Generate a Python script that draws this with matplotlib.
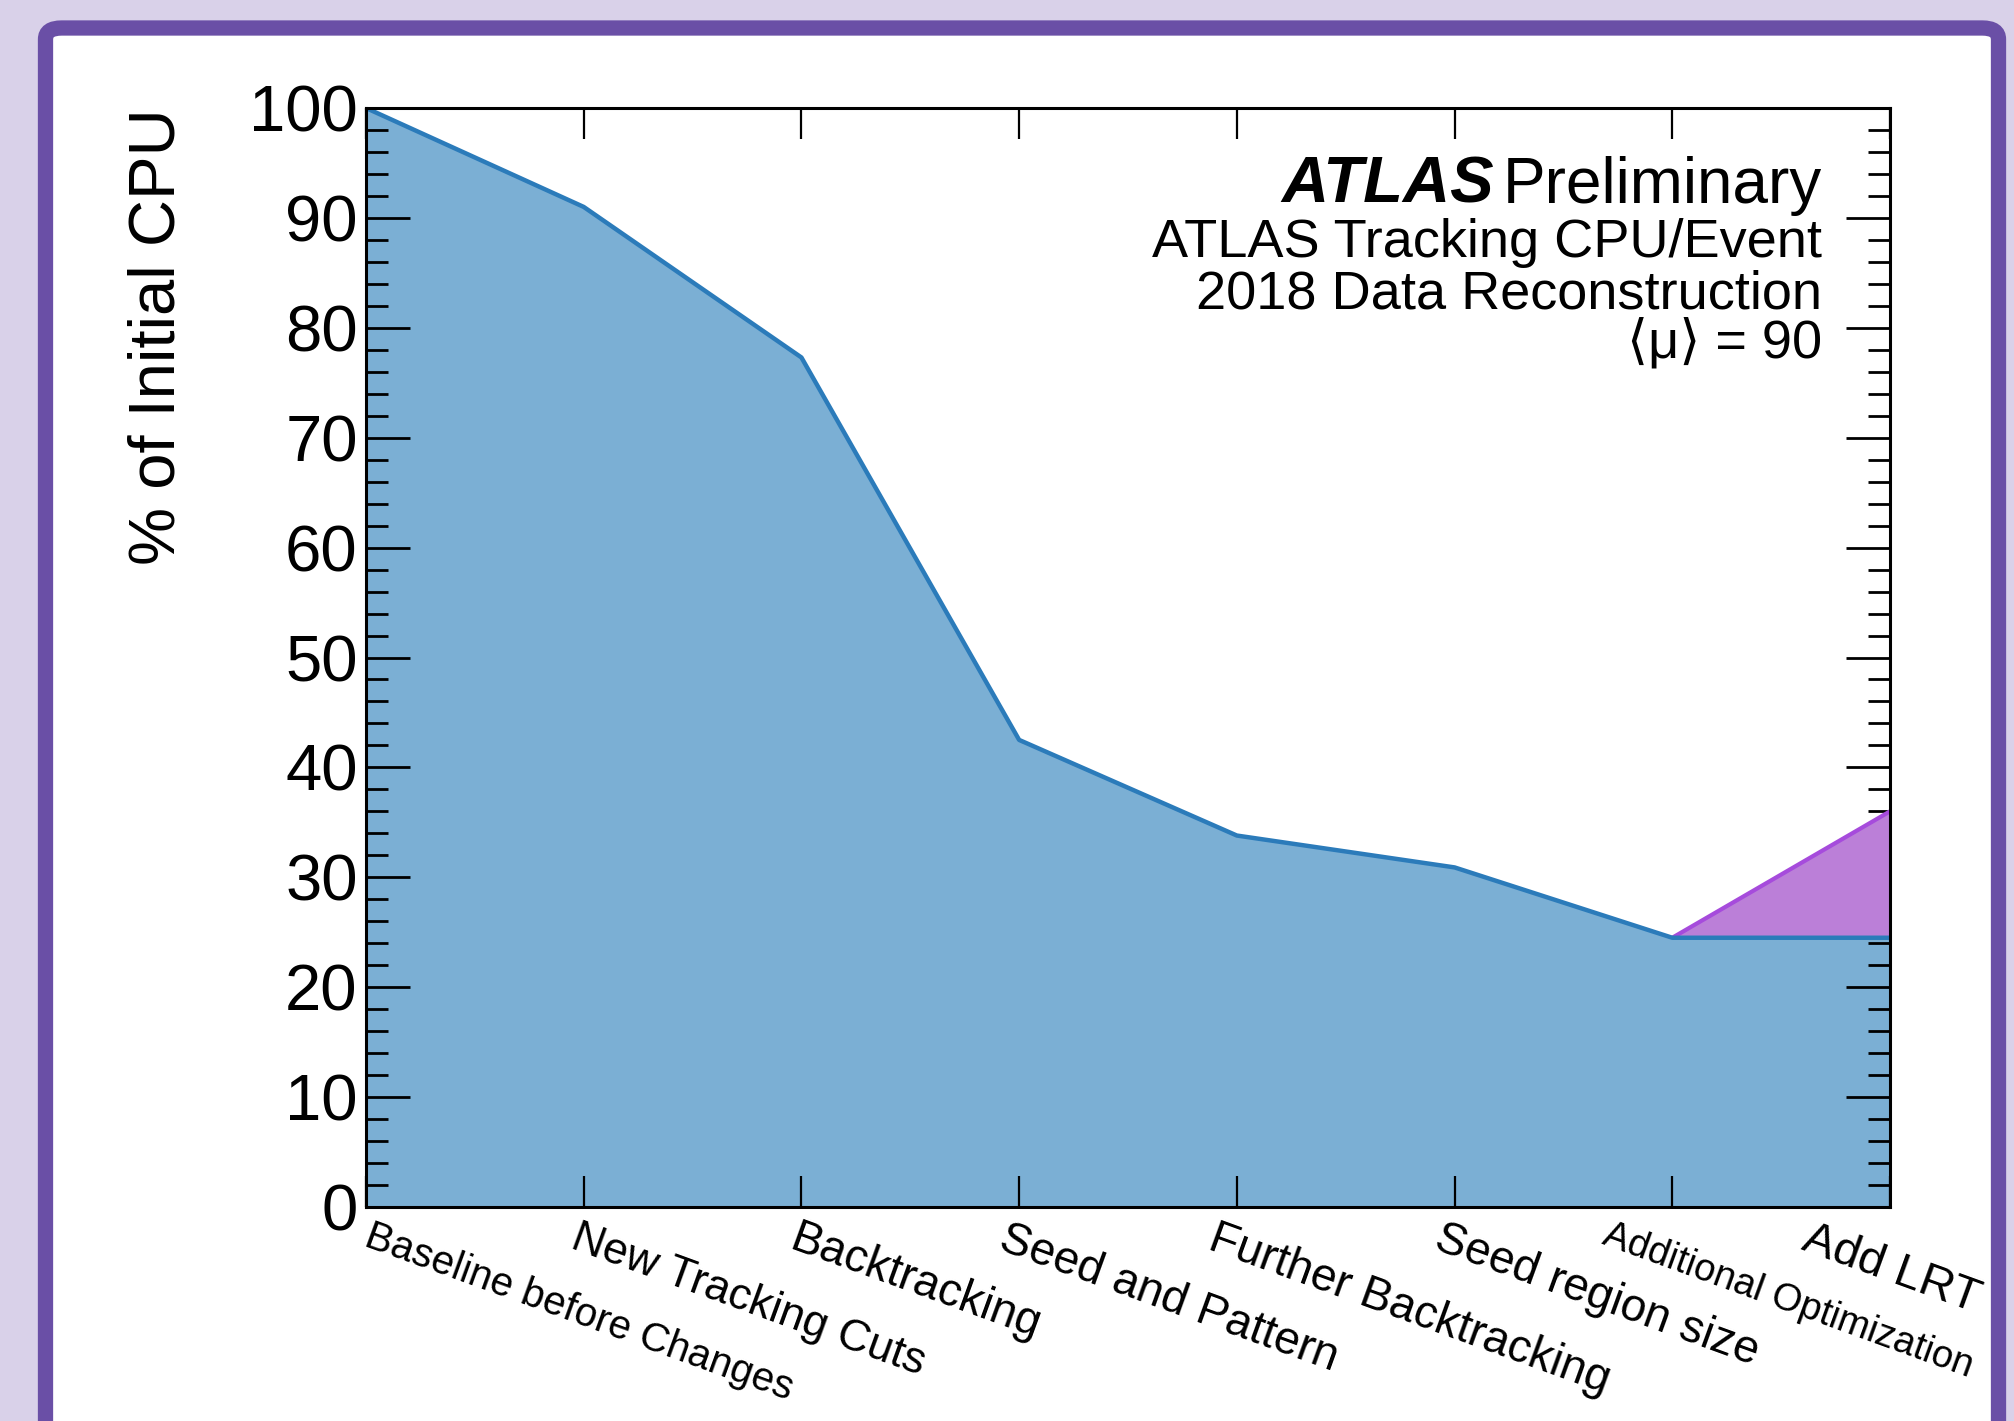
import numpy as np
import matplotlib.pyplot as plt
import matplotlib.transforms as mtransforms
from matplotlib.patches import FancyBboxPatch
from matplotlib.ticker import MultipleLocator

# data
steps = ['Baseline before Changes', 'New Tracking Cuts', 'Backtracking',
         'Seed and Pattern', 'Further Backtracking', 'Seed region size',
         'Additional Optimization', 'Add LRT']
cpu_pct = [100, 91.0, 77.3, 42.5, 33.8, 30.9, 24.5, 24.5]
lrt_extra = [0, 0, 0, 0, 0, 0, 0, 11.5]

# label look (sizes in pt, shift of each label from its tick in px)
label_sizes = [29, 32, 33, 33, 33, 33, 27.5, 34]
label_shift = [7, -4, -2, -11, -19, -11, -62, -78]

plt.rcParams['font.family'] = ['Liberation Sans', 'DejaVu Sans']

W, H = 2014, 1421
fig = plt.figure(figsize=(W / 100, H / 100), dpi=100, facecolor='#d9d1e9')

# purple frame with rounded top corners, open at the bottom
frame = FancyBboxPatch((45.5 / W, -60 / H), (1998.5 - 45.5) / W, (H - 28 + 60) / H,
                       boxstyle='round,pad=0,rounding_size=0.008',
                       transform=fig.transFigure, facecolor='white',
                       edgecolor='#6a4fa6', linewidth=11, zorder=-10)
fig.patches.append(frame)

ax = fig.add_axes([366 / W, (H - 1207) / H, (1890 - 366) / W, (1207 - 108) / H])
ax.set_facecolor('none')

x = np.arange(len(steps))
base = np.array(cpu_pct)
top = base + np.array(lrt_extra)

ax.fill_between(x, 0, base, color='#7bafd4', lw=0, zorder=1)
ax.fill_between(x[6:], base[6:], top[6:], color='#bb7fd8', lw=0, zorder=2)
ax.plot(x[6:], top[6:], color='#a64bdc', lw=3, zorder=3, solid_capstyle='butt')
ax.plot(x, base, color='#2b7bba', lw=3.2, zorder=4)

ax.set_xlim(0, 7)
ax.set_ylim(0, 100)

ax.set_xticks(x)
ax.set_xticklabels([])
xtrans = mtransforms.blended_transform_factory(ax.transData, ax.transAxes)
for xi, name, fs, dx in zip(x, steps, label_sizes, label_shift):
    off = mtransforms.ScaledTranslation(dx / 100, -10 / 100, fig.dpi_scale_trans)
    ax.text(xi, 0, name, transform=xtrans + off, fontsize=fs, rotation=-20,
            rotation_mode='anchor', ha='left', va='top', clip_on=False)

ax.yaxis.set_major_locator(MultipleLocator(10))
ax.yaxis.set_minor_locator(MultipleLocator(2))
ax.tick_params(axis='y', which='major', direction='in', length=32, width=2,
               left=True, right=True, labelsize=47, pad=6)
ax.tick_params(axis='y', which='minor', direction='in', length=16, width=2,
               left=True, right=True)
ax.tick_params(axis='x', which='major', direction='in', length=22, width=1.6,
               top=True, bottom=True)
for sp in ax.spines.values():
    sp.set_linewidth(2.2)
    sp.set_zorder(6)

ax.text(-0.117, 1.0, '% of Initial CPU', transform=ax.transAxes, rotation=90,
        ha='right', va='bottom', rotation_mode='anchor', fontsize=47)

# ATLAS label block
xr = 0.9554
prelim = ax.text(xr, 0.9136, 'Preliminary', transform=ax.transAxes,
                 ha='right', va='baseline', fontsize=46)
fig.canvas.draw()
bb = prelim.get_window_extent().transformed(ax.transAxes.inverted())
ax.text(bb.x0 - 0.006, 0.9136, 'ATLAS', transform=ax.transAxes, ha='right',
        va='baseline', fontsize=47, fontweight='bold', fontstyle='italic')
ax.text(xr, 0.8644, 'ATLAS Tracking CPU/Event', transform=ax.transAxes,
        ha='right', va='baseline', fontsize=39)
ax.text(xr, 0.818, '2018 Data Reconstruction', transform=ax.transAxes,
        ha='right', va='baseline', fontsize=39)
ax.text(xr, 0.7734, '\u27e8\u03bc\u27e9 = 90', transform=ax.transAxes,
        ha='right', va='baseline', fontsize=39)

fig.savefig('out.png', dpi=100, facecolor=fig.get_facecolor())
